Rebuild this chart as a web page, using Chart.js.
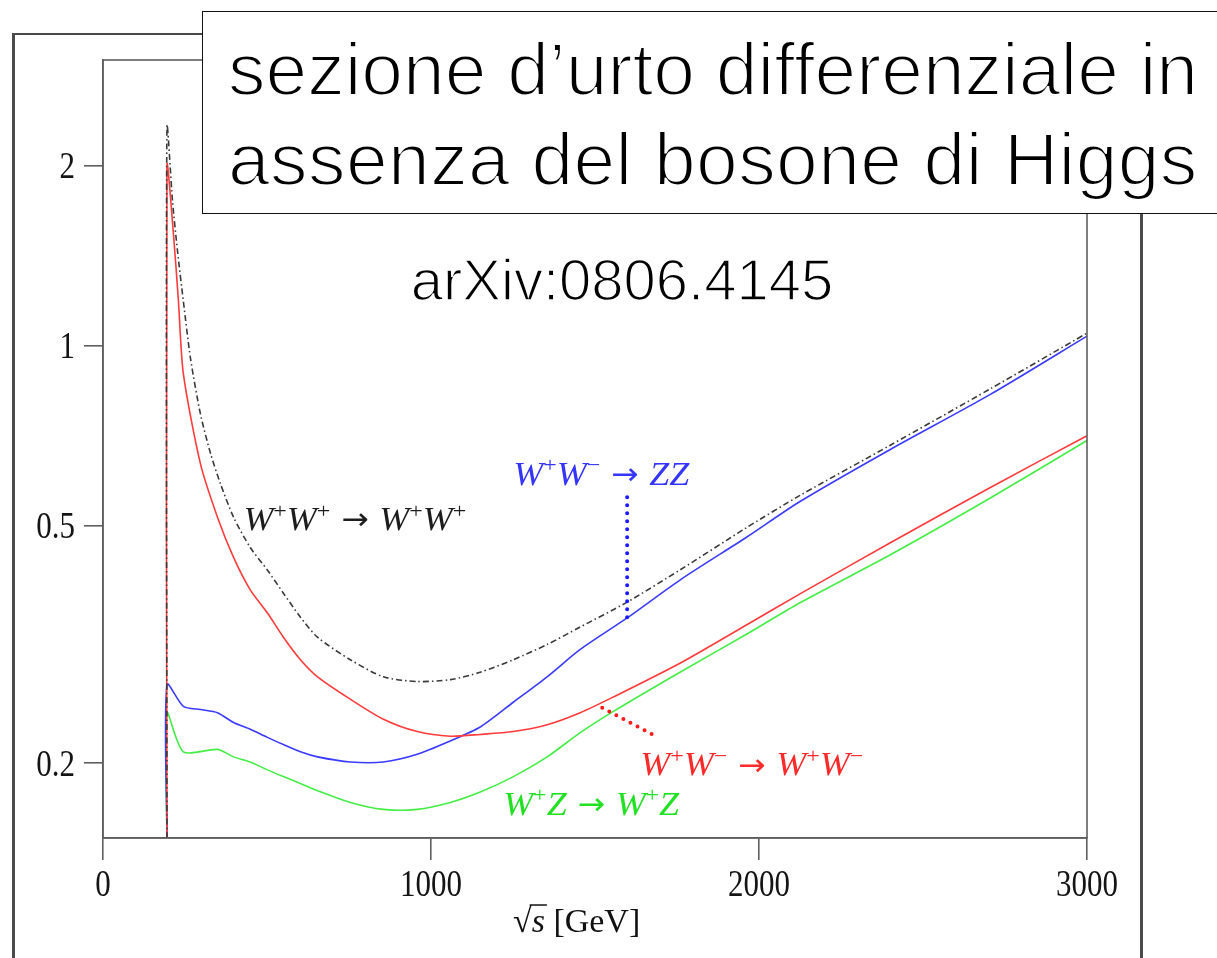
<!DOCTYPE html>
<html>
<head>
<meta charset="utf-8">
<script src="https://cdn.jsdelivr.net/npm/chart.js@4.4.0/dist/chart.umd.min.js"></script>
<style>
  html, body { margin: 0; padding: 0; background: #fff; }
  #wrap { position: relative; width: 1217px; height: 958px; overflow: hidden; background: #fff; }
  #plot { position: absolute; left: 0; top: 0; }
  #frame { position: absolute; left: 12px; top: 33px; width: 1125px; height: 960px;
           border: 3px solid #4a4a4a; border-top-width: 2px; border-bottom: none; }
  #titlebox { position: absolute; left: 202px; top: 11px; width: 1100px; height: 201px;
              background: #fff; border: 1.5px solid #111;
              font-family: "Liberation Sans", Arial, sans-serif; font-size: 75px; color: #000;
              -webkit-text-stroke: 2.2px #fff; }
  #titlebox div { position: absolute; left: 25px; line-height: 90px; white-space: nowrap; }
  #arxiv { position: absolute; left: 322px; width: 600px; top: 251px; text-align: center;
           font-family: "Liberation Sans", Arial, sans-serif; font-size: 58px; line-height: 58px; color: #000;
           -webkit-text-stroke: 1.6px #fff; }
</style>
</head>
<body>
<div id="wrap">
  <div id="frame"></div>
  <canvas id="plot" width="1217" height="958"></canvas>
  <div id="titlebox">
    <div style="top: 12px;">sezione d’urto differenziale in</div>
    <div style="top: 102px; letter-spacing: 0.4px;">assenza del bosone di Higgs</div>
  </div>
  <div id="arxiv">arXiv:0806.4145</div>
</div>
<script>
// sqrt(s) in GeV, cross sections (log axis)
const xTicks = [0, 1000, 2000, 3000];
const yTicks = [0.2, 0.5, 1, 2];

// W+W+ -> W+W+ (black dash-dot)
const wpwpX = [195, 195, 212, 227, 245, 267, 297, 328, 358, 398, 449, 501, 550, 602, 654, 754, 855, 958, 1059, 1150, 1251, 1354, 1455, 1598, 1759, 1963, 2125, 2399, 2704, 3000];
const wpwpY = [0.15, 2.32, 1.74, 1.44, 1.185, 0.949, 0.768, 0.659, 0.587, 0.516, 0.459, 0.421, 0.385, 0.351, 0.325, 0.298, 0.279, 0.274, 0.276, 0.284, 0.298, 0.316, 0.338, 0.372, 0.421, 0.496, 0.561, 0.680, 0.845, 1.048];

// W+W- -> W+W- (red)
const wpwmX = [195, 195, 215, 230, 245, 297, 349, 398, 449, 501, 550, 602, 654, 754, 855, 958, 1059, 1150, 1251, 1354, 1455, 1555, 1759, 1963, 2125, 2399, 2704, 3000];
const wpwmY = [0.15, 2.00, 1.53, 1.185, 0.896, 0.634, 0.516, 0.442, 0.390, 0.357, 0.325, 0.298, 0.279, 0.256, 0.237, 0.226, 0.222, 0.2235, 0.226, 0.232, 0.243, 0.258, 0.294, 0.341, 0.384, 0.467, 0.578, 0.706];

// W+W- -> ZZ (blue)
const zzX = [195, 195, 245, 297, 349, 398, 449, 501, 550, 602, 654, 754, 855, 958, 1059, 1150, 1251, 1354, 1455, 1598, 1759, 1963, 2125, 2399, 2704, 3000];
const zzY = [0.15, 0.271, 0.249, 0.246, 0.243, 0.234, 0.228, 0.221, 0.215, 0.209, 0.205, 0.201, 0.201, 0.207, 0.218, 0.230, 0.253, 0.279, 0.310, 0.350, 0.405, 0.478, 0.548, 0.669, 0.827, 1.036];

// W+Z -> W+Z (green)
const wzX = [195, 195, 245, 349, 398, 449, 501, 550, 602, 654, 754, 855, 958, 1059, 1150, 1251, 1354, 1455, 1555, 1759, 1963, 2125, 2399, 2704, 3000];
const wzY = [0.15, 0.243, 0.209, 0.211, 0.205, 0.201, 0.195, 0.190, 0.185, 0.180, 0.172, 0.1675, 0.1675, 0.172, 0.179, 0.190, 0.205, 0.225, 0.244, 0.284, 0.329, 0.371, 0.446, 0.555, 0.693];

const pts = (xs, ys) => xs.map((x, i) => ({ x: x, y: ys[i] }));

// curve labels, placed in data coordinates (left edge, vertical middle)
const curveLabels = [
  { parts: [['W','i'],['+','s'],['W','i'],['+','s'],['→','a'],['W','i'],['+','s'],['W','i'],['+','s']], x: 428, y: 0.512, color: '#1c1c1c' },
  { parts: [['W','i'],['+','s'],['W','i'],['−','s'],['→','a'],['ZZ','i']], x: 1251, y: 0.610, color: '#3535ff' },
  { parts: [['W','i'],['+','s'],['W','i'],['−','s'],['→','a'],['W','i'],['+','s'],['W','i'],['−','s']], x: 1638, y: 0.199, color: '#ff2a2a' },
  { parts: [['W','i'],['+','s'],['Z','i'],['→','a'],['W','i'],['+','s'],['Z','i']], x: 1220, y: 0.171, color: '#22e022' }
];
// dotted pointers from labels to curves
const pointers = [
  { x1: 1598, y1: 0.557, x2: 1598, y2: 0.350, color: '#1a1aff' },
  { x1: 1522, y1: 0.2478, x2: 1675, y2: 0.2235, color: '#ff1a1a' }
];

function drawMath(ctx, parts, x, yMid, size, color) {
  ctx.save();
  ctx.translate(x, 0);
  ctx.scale(1.09, 1);
  ctx.fillStyle = color;
  ctx.textAlign = 'left';
  ctx.textBaseline = 'alphabetic';
  const base = yMid + size * 0.33;
  let cx = 0;
  for (const [t, kind] of parts) {
    if (kind === 's') {
      ctx.font = Math.round(size * 0.68) + 'px "Liberation Serif"';
      ctx.fillText(t, cx, base - size * 0.38);
      cx += ctx.measureText(t).width;
    } else if (kind === 'i') {
      ctx.font = 'italic ' + size + 'px "Liberation Serif"';
      ctx.fillText(t, cx, base);
      cx += ctx.measureText(t).width;
    } else {
      // relation arrow with thin spaces around it
      cx += size * 0.3;
      ctx.font = Math.round(size * 0.9) + 'px "DejaVu Sans"';
      ctx.fillText(t, cx, base - size * 0.02);
      cx += ctx.measureText(t).width + size * 0.3;
    }
  }
  ctx.restore();
}

function stretchedText(ctx, text, px, py, size, align) {
  ctx.save();
  ctx.translate(px, py);
  ctx.scale(1, 1.22);
  ctx.font = size + 'px "Liberation Serif"';
  ctx.textAlign = align;
  ctx.textBaseline = 'alphabetic';
  ctx.fillText(text, 0, size * 0.335);
  ctx.restore();
}

const decorations = {
  id: 'decorations',
  afterDraw(chart) {
    const { ctx, chartArea: a, scales: { x, y } } = chart;
    ctx.save();
    ctx.strokeStyle = '#5e5e5e';
    ctx.lineWidth = 1.6;
    ctx.strokeRect(a.left, a.top, a.right - a.left, a.bottom - a.top);

    // tick labels
    ctx.fillStyle = '#141414';
    xTicks.forEach(v => stretchedText(ctx, String(v), x.getPixelForValue(v), a.bottom + 45, 31, 'center'));
    yTicks.forEach(v => stretchedText(ctx, String(v), a.left - 28, y.getPixelForValue(v), 31, 'right'));

    ctx.lineCap = 'round';
    ctx.lineWidth = 4;
    ctx.setLineDash([0, 8]);
    pointers.forEach(p => {
      ctx.strokeStyle = p.color;
      ctx.beginPath();
      ctx.moveTo(x.getPixelForValue(p.x1), y.getPixelForValue(p.y1));
      ctx.lineTo(x.getPixelForValue(p.x2), y.getPixelForValue(p.y2));
      ctx.stroke();
    });
    ctx.setLineDash([]);
    ctx.lineCap = 'butt';

    curveLabels.forEach(l => drawMath(ctx, l.parts, x.getPixelForValue(l.x), y.getPixelForValue(l.y), 33, l.color));

    // axis title: sqrt(s) [GeV]
    const tx = x.getPixelForValue(1250), ty = a.bottom + 83, fs = 34;
    ctx.fillStyle = '#111';
    ctx.textAlign = 'left';
    ctx.textBaseline = 'alphabetic';
    ctx.font = fs + 'px "Liberation Serif"';
    ctx.fillText('√', tx, ty + fs * 0.33);
    const rw = ctx.measureText('√').width;
    ctx.font = 'italic ' + fs + 'px "Liberation Serif"';
    ctx.fillText('s', tx + rw, ty + fs * 0.33);
    const sw = ctx.measureText('s').width;
    ctx.strokeStyle = '#111';
    ctx.lineWidth = 1.5;
    ctx.beginPath();
    ctx.moveTo(tx + rw - 2, ty - fs * 0.47);
    ctx.lineTo(tx + rw + sw + 2, ty - fs * 0.47);
    ctx.stroke();
    ctx.font = fs + 'px "Liberation Serif"';
    ctx.fillText(' [GeV]', tx + rw + sw, ty + fs * 0.33);
    ctx.restore();
  }
};

new Chart(document.getElementById('plot').getContext('2d'), {
  type: 'line',
  data: {
    datasets: [
      { label: 'W+W+ -> W+W+', data: pts(wpwpX, wpwpY), borderColor: '#3a3a3a', borderWidth: 1.6, borderDash: [6, 3, 1.5, 3] },
      { label: 'W+W- -> W+W-', data: pts(wpwmX, wpwmY), borderColor: '#ff3b3b', borderWidth: 1.6 },
      { label: 'W+W- -> ZZ', data: pts(zzX, zzY), borderColor: '#3b3bff', borderWidth: 1.6 },
      { label: 'W+Z -> W+Z', data: pts(wzX, wzY), borderColor: '#44ee44', borderWidth: 1.6 }
    ]
  },
  options: {
    responsive: false,
    animation: false,
    parsing: false,
    elements: { point: { radius: 0 }, line: { tension: 0.25, fill: false } },
    layout: { padding: { top: 60, right: 130, left: 0, bottom: 0 } },
    plugins: { legend: { display: false }, tooltip: { enabled: false } },
    scales: {
      x: {
        type: 'linear',
        min: 0,
        max: 3000,
        afterBuildTicks: s => { s.ticks = xTicks.map(v => ({ value: v })); },
        afterFit: s => { s.height = 120; },
        ticks: { color: 'rgba(0,0,0,0)', maxRotation: 0, autoSkip: false, callback: v => String(v) },
        grid: { drawOnChartArea: false, drawTicks: true, tickLength: 22, color: '#5e5e5e', lineWidth: 1.6 },
        border: { color: '#5e5e5e', width: 1.6 }
      },
      y: {
        type: 'logarithmic',
        min: 0.15,
        max: 3,
        afterBuildTicks: s => { s.ticks = yTicks.map(v => ({ value: v })); },
        afterFit: s => { s.width = 103; },
        ticks: { color: 'rgba(0,0,0,0)', autoSkip: false, callback: v => String(v) },
        grid: { drawOnChartArea: false, drawTicks: true, tickLength: 19, color: '#5e5e5e', lineWidth: 1.6 },
        border: { color: '#5e5e5e', width: 1.6 }
      }
    }
  },
  plugins: [decorations]
});
</script>
</body>
</html>
